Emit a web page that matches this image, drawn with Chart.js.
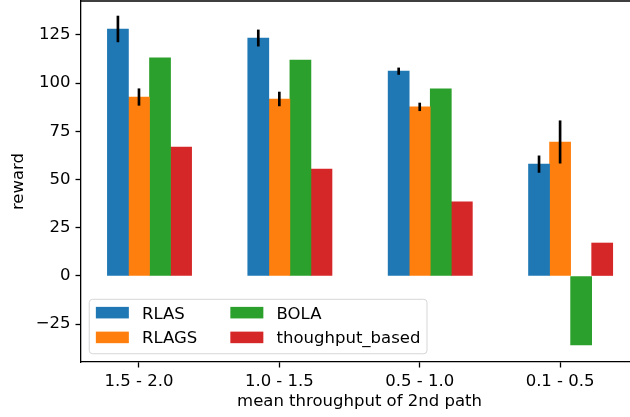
<!DOCTYPE html>
<html>
<head>
<meta charset="utf-8">
<script src="https://cdn.jsdelivr.net/npm/chart.js@4/dist/chart.umd.min.js"></script>
<style>
  html, body { margin: 0; padding: 0; overflow: hidden; background: #fff; }
  #wrap { width: 638px; height: 417px; }
</style>
</head>
<body>
<div id="wrap"><canvas id="c" width="638" height="417"></canvas></div>
<script>
// ---- data ----
const categories = ['1.5 - 2.0', '1.0 - 1.5', '0.5 - 1.0', '0.1 - 0.5'];
const seriesNames = ['RLAS', 'RLAGS', 'BOLA', 'thoughput_based'];
const rlas = [128.1, 123.4, 106.2, 58.0];
const rlasErr = [6.7, 4.2, 1.7, 4.3];
const rlags = [92.8, 91.8, 87.7, 69.5];
const rlagsErr = [4.3, 3.6, 2.0, 11.0];
const bola = [113.1, 112.0, 97.0, -35.8];
const thoughputBased = [66.9, 55.5, 38.4, 17.1];
const yTicks = [-25, 0, 25, 50, 75, 100, 125];

// ---- layout / style ----
const FS = 16.5;
const FONT = '"DejaVu Sans", sans-serif';
const colors = ['#1f77b4', '#ff7f0e', '#2ca02c', '#d62728'];
const BAR_W = 0.15;
const seriesOffset = [-BAR_W, 0, BAR_W, 2 * BAR_W];

Chart.defaults.font.family = FONT;
Chart.defaults.font.size = FS;
Chart.defaults.color = '#000';

const seriesValues = [rlas, rlags, bola, thoughputBased];
const seriesErrs = [rlasErr, rlagsErr, null, null];

const datasets = [];
seriesValues.forEach((vals, s) => {
  datasets.push({
    label: seriesNames[s],
    data: vals.map((v, i) => ({ x: i + seriesOffset[s], y: v })),
    backgroundColor: colors[s],
    borderWidth: 0,
    grouped: false,
    barPercentage: 1,
    categoryPercentage: 1,
    order: 1
  });
});
seriesErrs.forEach((errs, s) => {
  if (!errs) return;
  datasets.push({
    label: seriesNames[s] + ' error',
    data: errs.map((e, i) => ({ x: i + seriesOffset[s], y: [seriesValues[s][i] - e, seriesValues[s][i] + e] })),
    backgroundColor: '#000',
    borderWidth: 0,
    grouped: false,
    barThickness: 2,
    order: 0
  });
});

const fmt = v => (v < 0 ? '\u2212' + Math.abs(v) : String(v));

const framePlugin = {
  id: 'frame',
  afterDatasetsDraw(chart) {
    const { ctx, chartArea: ca } = chart;
    ctx.save();
    ctx.strokeStyle = '#000';
    ctx.lineWidth = 1.3;
    ctx.beginPath();
    ctx.moveTo(ca.left, ca.top);
    ctx.lineTo(ca.right, ca.top);
    ctx.lineTo(ca.right, ca.bottom);
    ctx.stroke();
    ctx.restore();
  }
};

const legendPlugin = {
  id: 'mplLegend',
  afterDraw(chart) {
    const { ctx, chartArea: ca } = chart;
    ctx.save();
    ctx.font = FS + 'px ' + FONT;
    const pad = 0.4 * FS, handleLen = 2 * FS, htp = 0.8 * FS, colSp = 2 * FS;
    const rowH = FS, lblSp = 0.5 * FS;
    const cols = [[0, 1], [2, 3]];
    const colW = cols.map(c => Math.max(...c.map(i => ctx.measureText(seriesNames[i]).width)));
    const w = pad + handleLen + htp + colW[0] + colSp + handleLen + htp + colW[1] + pad;
    const h = 2 * pad + 2 * rowH + lblSp;
    const left = ca.left + 0.5 * FS;
    const top = ca.bottom - 0.5 * FS - h;
    const r = 0.2 * FS;
    ctx.beginPath();
    ctx.moveTo(left + r, top);
    ctx.lineTo(left + w - r, top);
    ctx.arcTo(left + w, top, left + w, top + r, r);
    ctx.lineTo(left + w, top + h - r);
    ctx.arcTo(left + w, top + h, left + w - r, top + h, r);
    ctx.lineTo(left + r, top + h);
    ctx.arcTo(left, top + h, left, top + h - r, r);
    ctx.lineTo(left, top + r);
    ctx.arcTo(left, top, left + r, top, r);
    ctx.closePath();
    ctx.fillStyle = 'rgba(255,255,255,0.8)';
    ctx.fill();
    ctx.strokeStyle = 'rgba(204,204,204,0.8)';
    ctx.lineWidth = 1;
    ctx.stroke();
    let x = left + pad;
    cols.forEach((c, ci) => {
      c.forEach((idx, ri) => {
        const cy = top + pad + rowH / 2 - 1.5 + ri * (rowH + lblSp);
        ctx.fillStyle = colors[idx];
        ctx.fillRect(x, cy - 0.35 * FS, handleLen, 0.7 * FS);
        ctx.fillStyle = '#000';
        ctx.textAlign = 'left';
        ctx.textBaseline = 'alphabetic';
        ctx.fillText(seriesNames[idx], x + handleLen + htp, cy + 0.365 * FS);
      });
      x += handleLen + htp + colW[ci] + colSp;
    });
    ctx.restore();
  }
};

new Chart(document.getElementById('c'), {
  type: 'bar',
  data: { datasets },
  options: {
    responsive: false,
    animation: false,
    layout: { padding: { top: 1, left: 0, right: 0, bottom: 0 } },
    plugins: { legend: { display: false }, tooltip: { enabled: false } },
    scales: {
      x: {
        type: 'linear',
        offset: false,
        min: -0.413,
        max: 3.555,
        afterBuildTicks: s => { s.ticks = categories.map((c, i) => ({ value: i })); },
        afterFit: s => { s.height = 55; s.paddingLeft = 0; s.paddingRight = 0; },
        ticks: {
          callback: v => categories[v] !== undefined ? categories[v] : '',
          padding: 4,
          maxRotation: 0,
          autoSkip: false,
          font: { size: FS }
        },
        grid: { offset: false, drawOnChartArea: false, drawTicks: true, tickLength: 5.5, tickColor: '#000', tickWidth: 1.3 },
        border: { display: true, color: '#000', width: 1.3 },
        title: { display: true, text: 'mean throughput of 2nd path', font: { size: FS }, padding: { top: 0, bottom: 5.4 } }
      },
      y: {
        type: 'linear',
        min: -44.6,
        max: 142.6,
        afterBuildTicks: s => { s.ticks = yTicks.map(v => ({ value: v })); },
        afterFit: s => { s.width = 81; s.paddingTop = 0; s.paddingBottom = 0; },
        ticks: { callback: v => fmt(v), padding: 5, font: { size: FS } },
        grid: { drawOnChartArea: false, drawTicks: true, tickLength: 5.5, tickColor: '#000', tickWidth: 1.3 },
        border: { display: true, color: '#000', width: 1.3 },
        title: { display: true, text: 'reward', font: { size: FS }, padding: { top: 9, bottom: 0 } }
      }
    }
  },
  plugins: [framePlugin, legendPlugin]
});
</script>
</body>
</html>
